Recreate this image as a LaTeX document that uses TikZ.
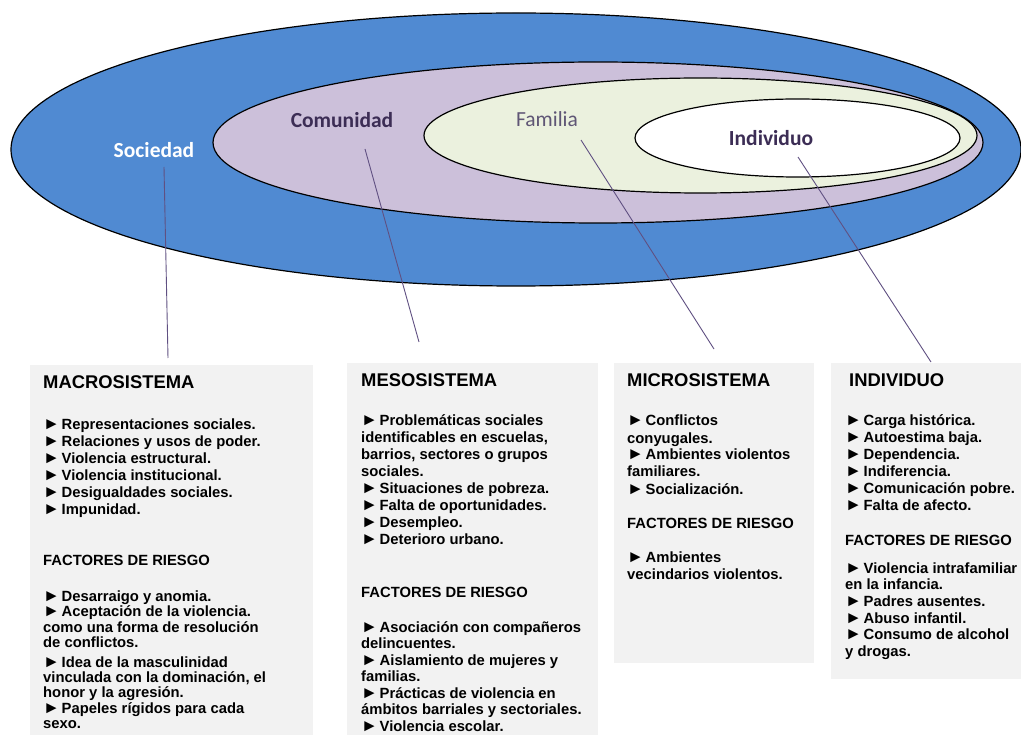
\documentclass[tikz,border=0pt]{standalone}
\usepackage{fontspec}
\setmainfont{Liberation Sans}
\newfontfamily\carl{Carlito}
\definecolor{sky}{RGB}{80,138,210}
\definecolor{lav}{RGB}{204,192,218}
\definecolor{pale}{RGB}{235,241,222}
\definecolor{panelgray}{RGB}{242,242,242}
\definecolor{conncol}{RGB}{96,80,130}
\definecolor{comcol}{RGB}{60,45,85}
\definecolor{famcol}{RGB}{95,86,117}
\newcommand\bul{\makebox[18.5pt][l]{\fontsize{17}{17}\selectfont ►}}
\begin{document}
\begin{tikzpicture}[x=1pt,y=-1pt,
  ring/.style={draw=black,line width=1.2pt},
  conn/.style={draw=conncol,line width=0.9pt},
  lbl/.style={font=\carl\bfseries\fontsize{21.5}{24}\selectfont,inner sep=0pt},
  panel/.style={fill=panelgray},
  body/.style={font=\bfseries\fontsize{14.8}{17}\selectfont,inner sep=0pt,anchor=base west},
  ttl/.style={font=\bfseries\fontsize{18.4}{22}\selectfont,inner sep=0pt,anchor=base west}]
\useasboundingbox (0,0) rectangle (1021,735);
\fill[white] (0,0) rectangle (1021,735);
% ellipses
\draw[ring,fill=sky] (516,149.5) ellipse [x radius=505pt,y radius=136.5pt];
\draw[ring,fill=lav] (598,142.5) ellipse [x radius=385pt,y radius=80.5pt];
\draw[ring,fill=pale] (700.5,135.5) ellipse [x radius=276.5pt,y radius=57.5pt];
\draw[ring,fill=white] (797.5,138) ellipse [x radius=162.5pt,y radius=39pt];
% labels
\node[lbl,text=white] (soc) at (154,150) {Sociedad};
\node[lbl,text=comcol] (com) at (342,120) {Comunidad};
\node[lbl,text=famcol,font=\carl\fontsize{21.5}{24}\selectfont] (fam) at (547,119) {Familia};
\node[lbl,text=comcol] (ind) at (771,138) {Individuo};
% panels
\fill[panel] (30,365) rectangle (313,740);
\fill[panel] (347,363) rectangle (598,740);
\fill[panel] (614,363) rectangle (814,663);
\fill[panel] (831,363) rectangle (1025,679);
% connectors
\coordinate (socA) at (164,167); \coordinate (socB) at (168,358);
\coordinate (comA) at (365,149); \coordinate (comB) at (419,342);
\coordinate (famA) at (581,140); \coordinate (famB) at (714,349);
\coordinate (indA) at (798,157); \coordinate (indB) at (931,362);
\draw[conn] (socA) -- (socB);
\draw[conn] (comA) -- (comB);
\draw[conn] (famA) -- (famB);
\draw[conn] (indA) -- (indB);
% box 1
\node[ttl] (t1) at (43,389) {MACROSISTEMA};
\foreach \y/\t [count=\i] in {430/{\bul Representaciones sociales.},446.8/{\bul Relaciones y usos de poder.},463.6/{\bul Violencia estructural.},480.4/{\bul Violencia institucional.},497.2/{\bul Desigualdades sociales.},514/{\bul Impunidad.},601/{\bul Desarraigo y anomia.},616/{\bul Aceptación de la violencia.},632/{como una forma de resolución},647/{de conflictos.},667/{\bul Idea de la masculinidad},682/{vinculada con la dominación, el},697/{honor y la agresión.},713/{\bul Papeles rígidos para cada},728/{sexo.}}
  \node[body] (a\i) at (43,\y) {\t};
\node[body] (f1) at (43,565) {FACTORES DE RIESGO};
% box 2
\node[ttl] (t2) at (361,387) {MESOSISTEMA};
\foreach \y/\t [count=\i] in {426/{\bul Problemáticas sociales},442.9/{identificables en escuelas,},459.8/{barrios, sectores o grupos},476.7/{sociales.},493.6/{\bul Situaciones de pobreza.},510.5/{\bul Falta de oportunidades.},527.4/{\bul Desempleo.},544.3/{\bul Deterioro urbano.},632/{\bul Asociación con compañeros},648.5/{delincuentes.},665/{\bul Aislamiento de mujeres y},681.5/{familias.},698/{\bul Prácticas de violencia en},714.5/{ámbitos barriales y sectoriales.},731/{\bul Violencia escolar.}}
  \node[body] (b\i) at (361,\y) {\t};
\node[body] (f2) at (361,597) {FACTORES DE RIESGO};
% box 3
\node[ttl] (t3) at (627,387) {MICROSISTEMA};
\foreach \y/\t [count=\i] in {426/{\bul Conflictos},443/{conyugales.},460/{\bul Ambientes violentos},477/{familiares.},494/{\bul Socialización.},562/{\bul Ambientes},579.5/{vecindarios violentos.}}
  \node[body] (c\i) at (627,\y) {\t};
\node[body] (f3) at (627,528) {FACTORES DE RIESGO};
% box 4
\node[ttl] (t4) at (849,387) {INDIVIDUO};
\foreach \y/\t [count=\i] in {426/{\bul Carga histórica.},442.9/{\bul Autoestima baja.},459.8/{\bul Dependencia.},476.7/{\bul Indiferencia.},493.6/{\bul Comunicación pobre.},510.5/{\bul Falta de afecto.},573/{\bul Violencia intrafamiliar},589.7/{en la infancia.},606.4/{\bul Padres ausentes.},623/{\bul Abuso infantil.},639.8/{\bul Consumo de alcohol},656.5/{y drogas.}}
  \node[body] (d\i) at (845,\y) {\t};
\node[body] (f4) at (845,545) {FACTORES DE RIESGO};
\end{tikzpicture}
\end{document}
